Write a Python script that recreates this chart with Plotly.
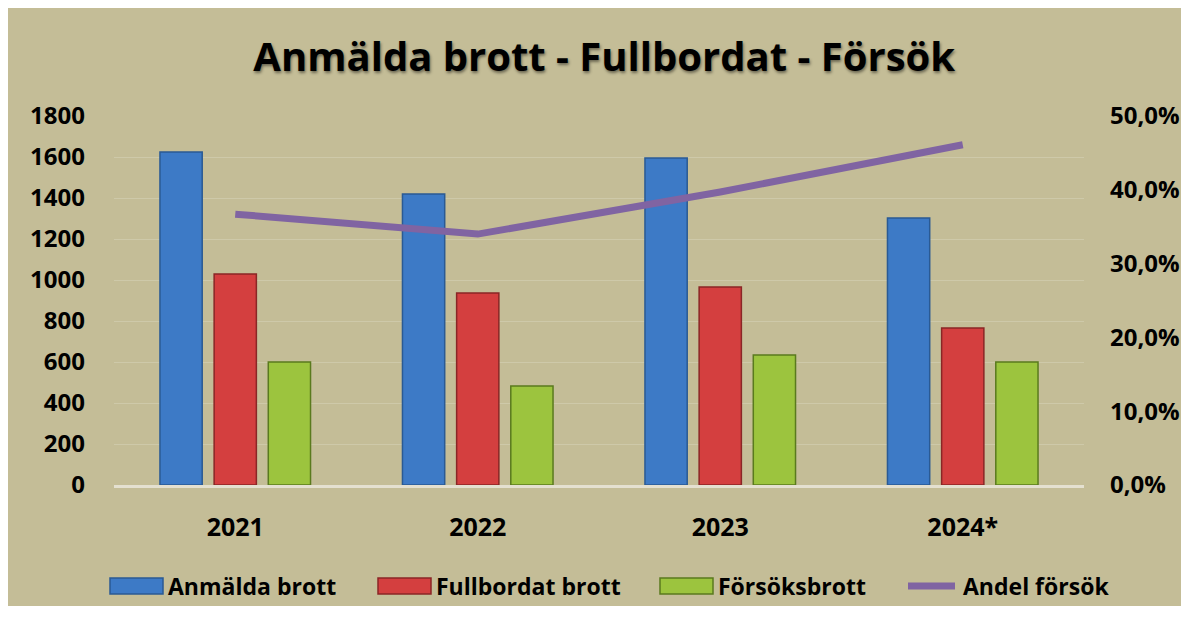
import plotly.graph_objects as go

years = ["2021", "2022", "2023", "2024*"]
anmalda = [1624, 1419, 1595, 1302]
fullbordat = [1029, 937, 966, 766]
forsok = [600, 483, 634, 600]
andel = [0.367, 0.340, 0.397, 0.461]

y_ticks = [0, 200, 400, 600, 800, 1000, 1200, 1400, 1600, 1800]
y2_ticks = [0, 0.1, 0.2, 0.3, 0.4, 0.5]

series_names = ["Anmälda brott", "Fullbordat brott", "Försöksbrott", "Andel försök"]
fill_colors = ["#3d7ac6", "#d43f3f", "#9cc43e", "#8064a2"]
edge_colors = ["#2a5a94", "#8a2626", "#5a7a1e", "#8064a2"]

FONT = "Open Sans"
BG = "#c4bd97"

W, H = 1176, 598
ML, MR, MT, MB = 106, 100, 108, 121
PW, PH = W - ML - MR, H - MT - MB

fig = go.Figure()
for vals, name, fc, ec in zip([anmalda, fullbordat, forsok], series_names[:3],
                              fill_colors[:3], edge_colors[:3]):
    fig.add_trace(go.Bar(x=years, y=vals, name=name, showlegend=False,
                         marker=dict(color=fc, line=dict(color=ec, width=1.5))))
fig.add_trace(go.Scatter(x=years, y=andel, name=series_names[3], mode="lines",
                         yaxis="y2", showlegend=False,
                         line=dict(color=fill_colors[3], width=7)))


# ---- custom legend (Excel-style wide swatches) ----
def px(xp):  # figure pixel x -> paper
    return (xp - ML) / PW


def py(yp):  # figure pixel y -> paper
    return (H - MB - yp) / PH


leg_y = 578
sw_left = [102, 370, 652, 897]
sw_w = 53
shapes = []
annotations = []
for i, (name, fc, ec) in enumerate(zip(series_names, fill_colors, edge_colors)):
    x0 = sw_left[i]
    if i < 3:
        shapes.append(dict(type="rect", xref="paper", yref="paper",
                           x0=px(x0), x1=px(x0 + sw_w), y0=py(leg_y + 8), y1=py(leg_y - 8),
                           fillcolor=fc, line=dict(color=ec, width=1.5)))
    else:
        shapes.append(dict(type="line", xref="paper", yref="paper",
                           x0=px(x0 + 3), x1=px(x0 + sw_w - 3), y0=py(leg_y), y1=py(leg_y),
                           line=dict(color=fc, width=7)))
    annotations.append(dict(text=name, xref="paper", yref="paper", x=px(x0 + sw_w + 3),
                            y=py(leg_y), xanchor="left", yanchor="middle", showarrow=False,
                            font=dict(family=FONT, size=23, weight=700, color="black")))

fig.update_layout(
    width=W, height=H,
    paper_bgcolor=BG, plot_bgcolor=BG,
    separators=", ",
    margin=dict(l=ML, r=MR, t=MT, b=MB, autoexpand=False),
    barmode="group", bargap=0.33, bargroupgap=0.22,
    showlegend=False,
    title=dict(text="Anmälda brott - Fullbordat - Försök", x=0.507, xanchor="center",
               y=1 - 49 / H, yanchor="middle",
               font=dict(family=FONT, size=40, color="black", weight=700,
                         shadow="1px 2px 3px rgba(0,0,0,0.45)")),
    font=dict(family=FONT, color="black"),
    xaxis=dict(showgrid=False, showline=True, linecolor="#e4e0d0", linewidth=2.5,
               ticks="", ticklabelstandoff=18,
               tickfont=dict(family=FONT, size=25, weight=700, color="black")),
    yaxis=dict(range=[0, 1800], tickvals=y_ticks, tickformat="d",
               showgrid=True, gridcolor="rgba(255,255,255,0.18)", gridwidth=1,
               zeroline=False, showline=False, ticks="", ticklabelstandoff=28,
               tickfont=dict(family=FONT, size=24, weight=700, color="black")),
    yaxis2=dict(range=[0, 0.5], tickvals=y2_ticks, tickformat=".1%",
                overlaying="y", side="right", showgrid=False, zeroline=False,
                showline=False, ticks="", ticklabelstandoff=25,
                tickfont=dict(family=FONT, size=24, weight=700, color="black")),
    shapes=shapes,
    annotations=annotations,
)

fig.write_html("out.html")
